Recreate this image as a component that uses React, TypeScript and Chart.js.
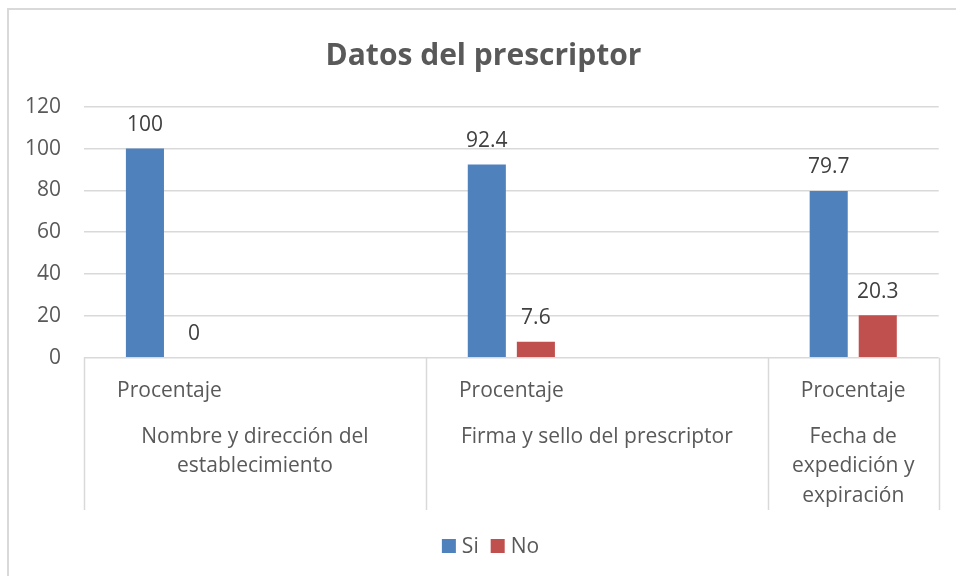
import React, { useEffect, useRef } from "react";
import { Chart, registerables } from "chart.js";
Chart.register(...registerables);

const TITLE = "Datos del prescriptor";
const innerLabels = ["Procentaje", "Procentaje", "Procentaje"];
const groupLabels = [
  "Nombre y dirección del establecimiento",
  "Firma y sello del prescriptor",
  "Fecha de expedición y expiración",
];
// number of category slots each group occupies (blank rows in the source table)
const groupSpans = [2, 2, 1];
const seriesNames = ["Si", "No"];
const siValues = [100, 92.4, 79.7];
const noValues = [0, 7.6, 20.3];
const seriesColors = ["#4F81BD", "#C0504D"];
const yMin = 0;
const yMax = 120;
const yStep = 20;

const FONT = '"Open Sans", "DejaVu Sans", sans-serif';
const TEXT = "#595959";
const GRID = "#D9D9D9";
const FS = 21;

function expand(values: number[]): (number | null)[] {
  const out: (number | null)[] = [];
  values.forEach((v, g) => {
    for (let i = 0; i < groupSpans[g]; i++) out.push(i === 0 ? v : null);
  });
  return out;
}
function expandLabels(): string[] {
  const out: string[] = [];
  innerLabels.forEach((l, g) => {
    for (let i = 0; i < groupSpans[g]; i++) out.push(i === 0 ? l : "");
  });
  return out;
}

function wrap(ctx: CanvasRenderingContext2D, text: string, maxW: number): string[] {
  const words = text.split(" ");
  const lines: string[] = [];
  let cur = "";
  for (const w of words) {
    const t = cur ? cur + " " + w : w;
    if (ctx.measureText(t).width > maxW && cur) {
      lines.push(cur);
      cur = w;
    } else cur = t;
  }
  if (cur) lines.push(cur);
  return lines;
}

const decorPlugin = {
  id: "decor",
  afterDraw(chart: any) {
    const ctx: CanvasRenderingContext2D = chart.ctx;
    const area = chart.chartArea;
    const xs = chart.scales.x;
    ctx.save();
    // outer border
    ctx.strokeStyle = GRID;
    ctx.lineWidth = 2;
    ctx.beginPath();
    ctx.moveTo(8, chart.height + 2);
    ctx.lineTo(8, 9);
    ctx.lineTo(chart.width + 2, 9);
    ctx.stroke();

    // title
    ctx.fillStyle = TEXT;
    ctx.font = `bold 30px ${FONT}`;
    ctx.textAlign = "center";
    ctx.textBaseline = "alphabetic";
    ctx.fillText(TITLE, 483.5, 65);

    // data labels
    ctx.font = `${FS}px ${FONT}`;
    ctx.fillStyle = "#404040";
    chart.data.datasets.forEach((ds: any, di: number) => {
      const meta = chart.getDatasetMeta(di);
      meta.data.forEach((bar: any, i: number) => {
        const v = ds.data[i];
        if (v === null || v === undefined) return;
        ctx.fillText(String(v), bar.x, bar.y - 17.7);
      });
    });

    // category axis (multi-level)
    const n = chart.data.labels.length;
    const slotW = (area.right - area.left) / n;
    ctx.strokeStyle = GRID;
    ctx.lineWidth = 1.5;
    let slot = 0;
    const bounds: number[] = [area.left];
    groupSpans.forEach((span, g) => {
      const left = area.left + slot * slotW;
      const right = left + span * slotW;
      bounds.push(right);
      const c0 = xs.getPixelForValue(slot);
      ctx.fillStyle = TEXT;
      ctx.font = `${FS}px ${FONT}`;
      ctx.textAlign = "center";
      ctx.fillText(innerLabels[g], c0, 397);
      const lines = wrap(ctx, groupLabels[g], span * slotW - 24);
      lines.forEach((ln, k) => {
        ctx.fillText(ln, (left + right) / 2, 442.7 + k * 29.5);
      });
      slot += span;
    });
    bounds.forEach((x) => {
      ctx.beginPath();
      ctx.moveTo(Math.round(x) + 0.5, area.bottom);
      ctx.lineTo(Math.round(x) + 0.5, 510);
      ctx.stroke();
    });

    // legend
    ctx.font = `${FS}px ${FONT}`;
    ctx.textAlign = "left";
    const box = 14;
    const gapBoxText = 6;
    const gapItems = 12;
    const widths = seriesNames.map((s) => box + gapBoxText + ctx.measureText(s).width);
    const total = widths.reduce((a, b) => a + b, 0) + gapItems * (widths.length - 1);
    let lx = 490.5 - total / 2;
    seriesNames.forEach((s, i) => {
      ctx.fillStyle = seriesColors[i];
      ctx.fillRect(lx, 539, box, box);
      ctx.fillStyle = TEXT;
      ctx.fillText(s, lx + box + gapBoxText, 553);
      lx += widths[i] + gapItems;
    });
    ctx.restore();
  },
};

export default function App() {
  const ref = useRef<HTMLCanvasElement | null>(null);
  useEffect(() => {
    if (!ref.current) return;
    const chart = new Chart(ref.current, {
      type: "bar",
      data: {
        labels: expandLabels(),
        datasets: [
          {
            label: seriesNames[0],
            data: expand(siValues),
            backgroundColor: seriesColors[0],
            categoryPercentage: 0.574,
            barPercentage: 0.776,
          },
          {
            label: seriesNames[1],
            data: expand(noValues),
            backgroundColor: seriesColors[1],
            categoryPercentage: 0.574,
            barPercentage: 0.776,
          },
        ],
      },
      options: {
        responsive: false,
        animation: false,
        layout: { padding: { top: 106.7, bottom: 218.3, left: 0, right: 17.3 } },
        plugins: {
          legend: { display: false },
          title: { display: false },
          tooltip: { enabled: false },
        },
        scales: {
          x: { display: false },
          y: {
            min: yMin,
            max: yMax,
            ticks: { stepSize: yStep, color: TEXT, font: { size: FS, family: FONT }, padding: 23 },
            grid: { color: GRID, lineWidth: 1.5, drawTicks: false },
            border: { display: false },
            afterFit: (s: any) => {
              s.width = 84;
            },
          },
        },
      },
      plugins: [decorPlugin],
    } as any);
    return () => chart.destroy();
  }, []);
  return (
    <div style={{ position: "absolute", left: 0, top: 0, width: 956, height: 576, background: "#fff" }}>
      <canvas ref={ref} width={956} height={576} style={{ display: "block" }} />
    </div>
  );
}
